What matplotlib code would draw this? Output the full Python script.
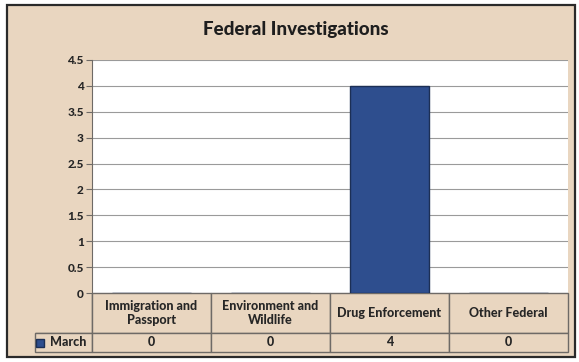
import matplotlib.pyplot as plt
from matplotlib.patches import Rectangle

# data
categories = ['Immigration and\nPassport', 'Environment and\nWildlife',
              'Drug Enforcement', 'Other Federal']
march = [0, 0, 4, 0]
series_name = 'March'
y_ticks = [0, 0.5, 1, 1.5, 2, 2.5, 3, 3.5, 4, 4.5]
y_tick_labels = ['0', '0.5', '1', '1.5', '2', '2.5', '3', '3.5', '4', '4.5']

beige = '#e9d6c0'
bar_color = '#2e4e8e'
line_color = '#6e6a66'
text_color = '#262626'

plt.rcParams['font.family'] = ['Lato', 'DejaVu Sans']

W, H = 579, 362
fig = plt.figure(figsize=(W / 100, H / 100), dpi=100)
fig.patch.set_facecolor('white')

# chart frame, kept behind the axes
frame = Rectangle((7 / W, 1 - 357 / H), 568 / W, 352 / H,
                  transform=fig.transFigure, facecolor=beige,
                  edgecolor='#2a2a2a', linewidth=1.6, zorder=-5)
fig.add_artist(frame)

fig.text(296 / W, 1 - 30 / H, 'Federal Investigations', ha='center', va='center',
         fontsize=13.5, fontweight='black', color='#1e1e1e')

# plot area in pixels
left, right, top, bottom = 92, 568, 60, 293
ax = fig.add_axes([left / W, 1 - bottom / H, (right - left) / W, (bottom - top) / H])
ax.set_facecolor('white')

x = range(len(categories))
ax.bar(x, march, width=0.67, color=bar_color, edgecolor='#1c2f55', linewidth=1.0, zorder=3)
ax.set_xlim(-0.5, len(categories) - 0.5)
ax.set_ylim(0, 4.5)
ax.set_yticks(y_ticks)
ax.set_yticklabels(y_tick_labels)
for lbl in ax.get_yticklabels():
    lbl.set_fontsize(8.5)
    lbl.set_fontweight('black')
    lbl.set_color(text_color)
ax.tick_params(axis='y', length=4, color=line_color, pad=2)
ax.set_xticks([])
ax.grid(axis='y', color='#9a9a9a', linewidth=0.8, zorder=0)
for side in ['top', 'right', 'bottom']:
    ax.spines[side].set_visible(False)
ax.spines['left'].set_color(line_color)

# data table under the plot
cell_text = [[''] + categories, [series_name] + [str(v) for v in march]]
col_w = [57] + [119] * len(categories)
row_h = [40, 19]
tbl_h = sum(row_h) / (bottom - top)
tbl_x0 = -57 / (right - left)
table = ax.table(cellText=cell_text, cellLoc='center',
                 bbox=[tbl_x0, -tbl_h, 1 - tbl_x0, tbl_h])
table.auto_set_font_size(False)
for (r, c), cell in table.get_celld().items():
    cell.set_width(col_w[c])
    cell.set_height(row_h[r])
    cell.set_facecolor(beige)
    cell.set_edgecolor(line_color)
    cell.set_linewidth(1.0)
    txt = cell.get_text()
    txt.set_fontsize(9)
    txt.set_fontweight('black')
    txt.set_color(text_color)
    txt.set_linespacing(1.25)
    if r == 0 and c == 0:
        cell.visible_edges = 'BR'
    if r == 1 and c == 0:
        txt.set_text('   ' + series_name)
        cell.PAD = 0.04

# legend key in the series cell
ax.plot([tbl_x0 + 0.011], [-(row_h[0] + row_h[1] / 2) / (bottom - top)], 's',
        transform=ax.transAxes, clip_on=False, color=bar_color,
        markeredgecolor='#1c2f55', markersize=5.5)

fig.savefig('out.png', dpi=100, facecolor=fig.get_facecolor())
